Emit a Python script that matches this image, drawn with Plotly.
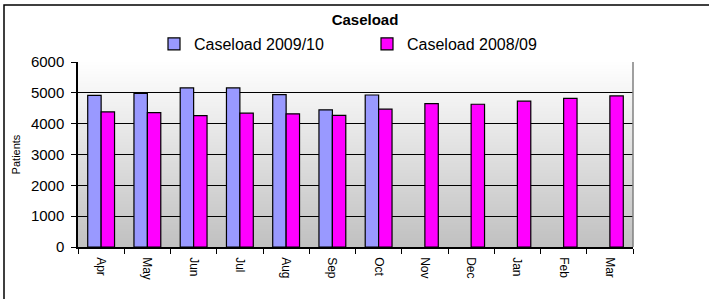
import plotly.graph_objects as go

months = ["Apr", "May", "Jun", "Jul", "Aug", "Sep", "Oct", "Nov", "Dec", "Jan", "Feb", "Mar"]
caseload_2009_10 = [4920, 4980, 5160, 5160, 4940, 4450, 4930, None, None, None, None, None]
caseload_2008_09 = [4380, 4360, 4260, 4340, 4320, 4270, 4470, 4650, 4630, 4730, 4820, 4900]
y_ticks = [0, 1000, 2000, 3000, 4000, 5000, 6000]

W, H = 709, 299
ML, MR, MT, MB = 78, 76, 62, 52
PW = W - ML - MR
PH = H - MT - MB
FONT = "Liberation Sans, Arial, sans-serif"

fig = go.Figure()
fig.add_trace(go.Bar(name="Caseload 2009/10", x=months, y=caseload_2009_10,
                     marker=dict(color="#9999FF", line=dict(color="#000000", width=1.2))))
fig.add_trace(go.Bar(name="Caseload 2008/09", x=months, y=caseload_2008_09,
                     marker=dict(color="#FF00FF", line=dict(color="#000000", width=1.2))))

# gradient plot background (white at top -> grey at bottom)
shapes = []
n = 60
for i in range(n):
    t = (i + 0.5) / n  # 0 at bottom, 1 at top
    v = int(round(0xC0 + (0xFF - 0xC0) * t))
    col = f"rgb({v},{v},{v})"
    shapes.append(dict(type="rect", xref="paper", yref="paper", x0=0, x1=1,
                       y0=i / n, y1=min(1.0, (i + 1.6) / n), fillcolor=col,
                       line=dict(width=0), layer="below"))
# right border of the plot area
shapes.append(dict(type="line", xref="paper", yref="paper", x0=1, x1=1, y0=0, y1=1,
                   line=dict(color="#808080", width=1.5)))
# outer chart border (left and top visible)
bx0 = (4 - ML) / PW
by1 = (H - MB - 5) / PH
shapes.append(dict(type="rect", xref="paper", yref="paper", x0=bx0, x1=1.3,
                   y0=-0.6, y1=by1, line=dict(color="#000000", width=1.5),
                   fillcolor="rgba(0,0,0,0)"))

fig.update_layout(
    width=W, height=H, autosize=False,
    margin=dict(l=ML, r=MR, t=MT, b=MB, autoexpand=False),
    paper_bgcolor="#FFFFFF", plot_bgcolor="#FFFFFF",
    font=dict(family=FONT, color="#000000"),
    barmode="group", bargap=0.42, bargroupgap=0,
    shapes=shapes,
    title=dict(text="<b>Caseload</b>", x=365 / W, xref="container", xanchor="center",
               y=1 - 19.5 / H, yref="container", yanchor="middle",
               font=dict(size=15, family=FONT, color="#000000")),
    legend=dict(orientation="h", xref="container", yref="container",
                x=154 / W, xanchor="left", y=1 - 44 / H, yanchor="middle",
                font=dict(size=16, family=FONT), entrywidth=168, entrywidthmode="pixels",
                bgcolor="rgba(0,0,0,0)", itemclick=False),
    xaxis=dict(tickangle=90, tickfont=dict(size=12, family=FONT), ticks="outside",
               tickson="boundaries", ticklen=5, tickcolor="#000000", automargin=False,
               ticklabelstandoff=6,
               showline=True, linecolor="#000000", linewidth=1.5,
               showgrid=False, zeroline=False, fixedrange=True),
    yaxis=dict(range=[0, 6000], tickvals=y_ticks, tickfont=dict(size=15, family=FONT),
               ticks="outside", ticklen=5, tickcolor="#000000", ticklabelstandoff=4,
               automargin=False,
               showline=True, linecolor="#000000", linewidth=1.5,
               showgrid=True, gridcolor="#000000", gridwidth=1, zeroline=False,
               title=dict(text="Patients", font=dict(size=11, family=FONT), standoff=8),
               fixedrange=True),
)

fig.write_html("out.html", config={"displayModeBar": False},
               post_script="document.body.style.margin='0';document.body.style.padding='0';"
                           "document.body.style.overflow='hidden';")
